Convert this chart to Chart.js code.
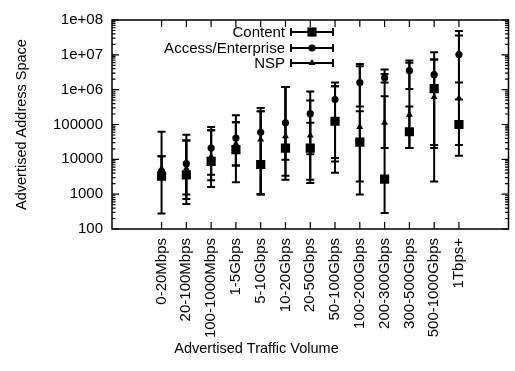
<!DOCTYPE html>
<html>
<head>
<meta charset="utf-8">
<script src="https://cdn.jsdelivr.net/npm/chart.js@4"></script>
<style>
  body { margin: 0; background: #fff; }
</style>
</head>
<body>
<canvas id="chart" width="515" height="371"></canvas>
<script>
const categories = ['0-20Mbps', '20-100Mbps', '100-1000Mbps', '1-5Gbps', '5-10Gbps', '10-20Gbps', '20-50Gbps',
    '50-100Gbps', '100-200Gbps', '200-300Gbps', '300-500Gbps', '500-1000Gbps', '1Tbps+'];

const yTicks = [100, 1000, 10000, 100000, 1e6, 1e7, 1e8];
const yTickLabels = ['100', '1000', '10000', '100000', '1e+06', '1e+07', '1e+08'];

// values, with low / high ends of each error bar
const contentVal  = [3300, 3600, 8700, 19000, 7100, 21000, 21000, 124000, 31000, 2700, 62000, 1070000, 100000];
const contentLow  = [280, 520, 1600, 2200, 980, 2600, 2100, 4100, 980, 290, 21000, 2300, 12600];
const contentHigh = [61600, 35000, 68000, 116000, 240000, 1200000, 112000, 1260000, 240000, 650000, 330000, 7300000, 520000];

const accessVal  = [4500, 7500, 21000, 41000, 60000, 112000, 205000, 520000, 1600000, 2200000, 3500000, 2700000, 10200000];
const accessLow  = [2800, 980, 3600, 6600, 1000, 9800, 14000, 11000, 330000, 1600000, 1050000, 26000, 1600000];
const accessHigh = [12300, 51000, 85000, 183000, 300000, 1200000, 890000, 1600000, 5500000, 3800000, 6900000, 11800000, 48000000];

const nspVal  = [5500, 5500, 12000, 28000, 37000, 46000, 48000, 110000, 85000, 112000, 190000, 620000, 580000];
const nspLow  = [3000, 730, 2500, 6600, 1000, 3400, 2600, 8700, 2300, 21000, 21000, 21000, 26000];
const nspHigh = [12300, 35000, 68000, 116000, 240000, 1200000, 490000, 1260000, 4700000, 2800000, 5900000, 7300000, 36000000];

const FONT = '"Liberation Sans", Arial, Helvetica, sans-serif';

function makeSet(label, vals, low, high, style, radius) {
    return {
        type: 'scatter',
        label: label,
        data: vals.map((v, i) => ({ x: i, y: v })),
        low: low,
        high: high,
        pointStyle: style,
        pointRadius: radius,
        pointHoverRadius: radius,
        backgroundColor: '#000',
        borderColor: '#000',
        borderWidth: 0,
        showLine: false
    };
}

// error bars go under the markers
const errorBars = {
    id: 'errorBars',
    beforeDatasetsDraw(chart) {
        const { ctx, scales: { x, y } } = chart;
        ctx.save();
        ctx.strokeStyle = '#000';
        ctx.lineWidth = 2;
        chart.data.datasets.forEach(ds => {
            ds.low.forEach((lo, i) => {
                const px = x.getPixelForValue(i);
                const y1 = y.getPixelForValue(lo);
                const y2 = y.getPixelForValue(ds.high[i]);
                ctx.beginPath();
                ctx.moveTo(px, y1); ctx.lineTo(px, y2);
                ctx.moveTo(px - 4, y1); ctx.lineTo(px + 4, y1);
                ctx.moveTo(px - 4, y2); ctx.lineTo(px + 4, y2);
                ctx.stroke();
            });
        });
        ctx.restore();
    }
};

// gnuplot-like frame with inward ticks on all sides
const frame = {
    id: 'frame',
    afterDraw(chart) {
        const { ctx, chartArea: a, scales: { x, y } } = chart;
        ctx.save();
        ctx.strokeStyle = '#000';
        ctx.lineWidth = 1.5;
        ctx.strokeRect(a.left, a.top, a.right - a.left, a.bottom - a.top);
        ctx.lineWidth = 1.2;
        ctx.beginPath();
        categories.forEach((c, i) => {
            const px = x.getPixelForValue(i);
            ctx.moveTo(px, a.bottom); ctx.lineTo(px, a.bottom - 7);
            ctx.moveTo(px, a.top); ctx.lineTo(px, a.top + 7);
        });
        yTicks.forEach((v, i) => {
            const py = y.getPixelForValue(v);
            ctx.moveTo(a.left, py); ctx.lineTo(a.left + 7, py);
            ctx.moveTo(a.right, py); ctx.lineTo(a.right - 7, py);
            if (i < yTicks.length - 1) {
                for (let k = 2; k <= 9; k++) {
                    const pm = y.getPixelForValue(v * k);
                    ctx.moveTo(a.left, pm); ctx.lineTo(a.left + 3.5, pm);
                    ctx.moveTo(a.right, pm); ctx.lineTo(a.right - 3.5, pm);
                }
            }
        });
        ctx.stroke();

        // key, drawn inside the plot like gnuplot does
        const keyRows = [32, 48, 63];
        ctx.font = '15px ' + FONT;
        ctx.fillStyle = '#000';
        ctx.textAlign = 'right';
        ctx.textBaseline = 'middle';
        ctx.lineWidth = 2;
        chart.data.datasets.forEach((ds, i) => {
            const ky = keyRows[i];
            ctx.fillText(ds.label, 285, ky + 1);
            ctx.beginPath();
            ctx.moveTo(291, ky); ctx.lineTo(333, ky);
            ctx.moveTo(291, ky - 4); ctx.lineTo(291, ky + 4);
            ctx.moveTo(333, ky - 4); ctx.lineTo(333, ky + 4);
            ctx.stroke();
            Chart.helpers.drawPoint(ctx, {
                pointStyle: ds.pointStyle,
                radius: ds.pointRadius,
                rotation: 0,
                borderWidth: 0
            }, 312, ky);
        });
        ctx.restore();
    }
};

const ctx = document.getElementById('chart').getContext('2d');
new Chart(ctx, {
    data: {
        datasets: [
            makeSet('Content', contentVal, contentLow, contentHigh, 'rect', 6.5),
            makeSet('Access/Enterprise', accessVal, accessLow, accessHigh, 'circle', 3.6),
            makeSet('NSP', nspVal, nspLow, nspHigh, 'triangle', 4)
        ]
    },
    options: {
        responsive: false,
        animation: false,
        layout: { padding: { top: 20, right: 2, left: 0, bottom: 0 } },
        scales: {
            x: {
                type: 'linear',
                min: -2,
                max: 14,
                afterBuildTicks: s => { s.ticks = categories.map((c, i) => ({ value: i })); },
                afterFit: s => { s.height = 111.6; },
                grid: { display: false, drawTicks: false },
                border: { display: false },
                ticks: {
                    autoSkip: false,
                    minRotation: 90,
                    maxRotation: 90,
                    padding: 9,
                    color: '#000',
                    font: { family: FONT, size: 15 },
                    callback: (v, i) => categories[i]
                }
            },
            y: {
                type: 'logarithmic',
                min: 100,
                max: 1e8,
                afterBuildTicks: s => { s.ticks = yTicks.map(v => ({ value: v })); },
                afterFit: s => { s.width = 112; },
                grid: { display: false, drawTicks: false },
                border: { display: false },
                ticks: {
                    padding: 9,
                    color: '#000',
                    font: { family: FONT, size: 15 },
                    callback: (v, i) => yTickLabels[i]
                },
                title: {
                    display: true,
                    text: 'Advertised Address Space',
                    color: '#000',
                    font: { family: FONT, size: 14.5 },
                    padding: { top: 13, bottom: 0 }
                }
            }
        },
        plugins: {
            legend: { display: false },
            tooltip: { enabled: false },
            title: {
                display: true,
                position: 'bottom',
                text: 'Advertised Traffic Volume',
                color: '#000',
                font: { family: FONT, size: 14.5, weight: 'normal' },
                padding: { top: 0, bottom: 13 }
            }
        }
    },
    plugins: [errorBars, frame]
});
</script>
</body>
</html>
